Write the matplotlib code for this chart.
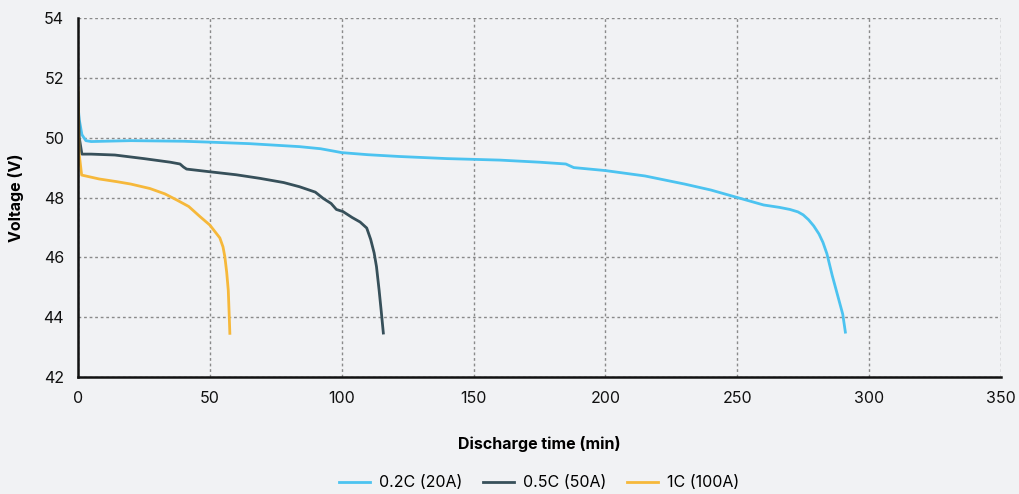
import matplotlib
matplotlib.use('Agg')
import matplotlib.pyplot as plt

# discharge curves
t_02c = [0, 0.5, 1.5, 3, 5, 20, 40, 50, 65, 84, 92, 97, 100, 110, 122, 140, 160, 175,
         185, 188, 200, 215, 230, 240, 250, 260, 266, 270, 273, 275, 277, 279, 281,
         282.5, 284, 286, 288, 290, 291]
v_02c = [51.1, 50.6, 50.1, 49.9, 49.87, 49.9, 49.88, 49.85, 49.8, 49.7, 49.63, 49.55,
         49.5, 49.43, 49.37, 49.3, 49.25, 49.18, 49.12, 49.0, 48.9, 48.72, 48.45,
         48.25, 48.0, 47.75, 47.67, 47.6, 47.52, 47.42, 47.26, 47.05, 46.78, 46.5,
         46.12, 45.4, 44.75, 44.1, 43.5]

t_05c = [0, 0.5, 1.5, 5, 14, 25, 35, 38.7, 40, 41.2, 50, 60, 69, 78, 84, 90, 93, 96,
         98, 100.5, 104, 107, 109.5, 111, 112.3, 113.2, 114.2, 115, 115.8]
v_05c = [51.5, 50.0, 49.45, 49.45, 49.42, 49.3, 49.18, 49.12, 49.02, 48.95, 48.86,
         48.76, 48.64, 48.5, 48.36, 48.18, 47.97, 47.8, 47.6, 47.53, 47.33, 47.18,
         46.98, 46.6, 46.15, 45.69, 44.9, 44.2, 43.47]

t_1c = [0, 0.4, 1.4, 8, 14.7, 20, 27.3, 33, 37.4, 42, 46.3, 50, 53.8, 55, 55.7, 56.4,
        57.0, 57.3, 57.6]
v_1c = [51.65, 49.5, 48.75, 48.62, 48.53, 48.45, 48.3, 48.12, 47.92, 47.7, 47.36,
        47.08, 46.65, 46.35, 46.02, 45.5, 44.9, 44.2, 43.46]

labels = ['0.2C (20A)', '0.5C (50A)', '1C (100A)']
colors = ['#4cc3f0', '#37505a', '#f6b83a']

plt.rcParams['font.family'] = ['Inter', 'DejaVu Sans']
bg = '#f1f2f4'

fig = plt.figure(figsize=(10.19, 4.94), dpi=100, facecolor=bg)
ax = fig.add_axes([0.0765, 0.2368, 0.9058, 0.7268], facecolor=bg)

for t, v, lab, c in zip([t_02c, t_05c, t_1c], [v_02c, v_05c, v_1c], labels, colors):
    ax.plot(t, v, color=c, lw=2, label=lab)

ax.set_xlim(0, 350)
ax.set_ylim(42, 54)
ax.set_xticks(range(0, 351, 50))
ax.set_yticks(range(42, 55, 2))
ax.grid(True, color='#8a8a8a', linestyle=(0, (2, 2)), lw=1)
ax.set_axisbelow(True)
ax.tick_params(length=0, labelsize=11.5, pad=10, colors='#111111')

for s in ['top', 'right']:
    ax.spines[s].set_visible(False)
for s in ['left', 'bottom']:
    ax.spines[s].set_color('#111111')
    ax.spines[s].set_linewidth(1.8)

ax.set_xlabel('Discharge time (min)', fontsize=11.5, fontweight='bold', labelpad=22)
ax.set_ylabel('Voltage (V)', fontsize=11.5, fontweight='bold', labelpad=14)

ax.legend(loc='lower center', bbox_to_anchor=(0.5, -0.355), ncol=3, frameon=False,
          fontsize=11.5, handlelength=1.9, columnspacing=1.3, handletextpad=0.6)

fig.savefig('out.png', dpi=100, facecolor=bg)
